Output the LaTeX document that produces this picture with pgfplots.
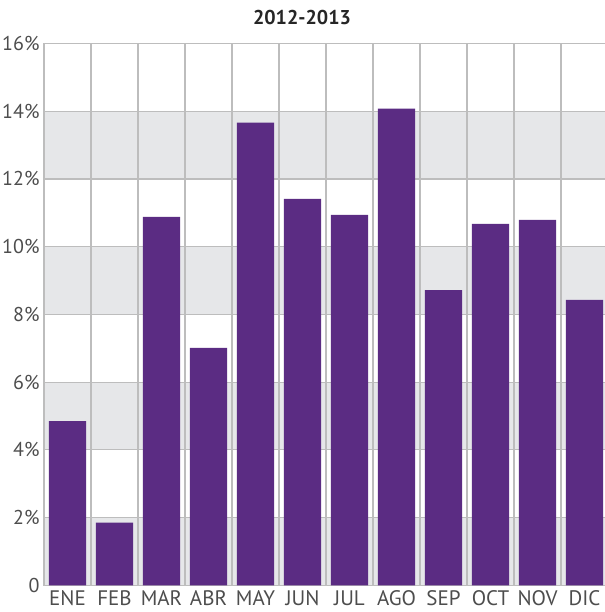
\documentclass[border=0pt]{standalone}
\usepackage{pgfplots}
\pgfplotsset{compat=1.18}
\usepackage{fontspec}
\setmainfont{PT Sans}
\definecolor{barc}{HTML}{5B2C83}
\definecolor{band}{HTML}{E6E7E9}
\definecolor{gridc}{HTML}{BDBDBD}
\definecolor{labc}{HTML}{4D4D4D}

\begin{document}
\begin{tikzpicture}
    \begin{axis}[
        name=ax, set layers,
        scale only axis, width=564pt, height=541.8pt,
        xmin=-0.5, xmax=11.5, ymin=0, ymax=16,
        ybar, bar width=0.79,
        xtick={0,...,11},
        xticklabels={ENE,FEB,MAR,ABR,MAY,JUN,JUL,AGO,SEP,OCT,NOV,DIC},
        minor xtick={0.5,1.5,...,10.5},
        ytick={0,2,...,16},
        yticklabels={0,2\%,4\%,6\%,8\%,10\%,12\%,14\%,16\%},
        xminorgrids, ymajorgrids,
        grid style={gridc, line width=1.2pt},
        minor grid style={gridc, line width=1.2pt},
        major tick length=0pt, minor tick length=0pt,
        axis line style={gridc, line width=1.2pt},
        tick label style={font=\fontsize{20}{24}\selectfont, text=labc},
        xticklabel style={yshift=-2pt, font=\fontsize{21}{24}\selectfont},
        yticklabel style={xshift=-1pt},
    ]
        % grey bands behind the grid
        \begin{pgfonlayer}{axis background}
            \fill[band] (axis cs:-0.5,0) rectangle (axis cs:11.5,2);
            \fill[band] (axis cs:-0.5,4) rectangle (axis cs:11.5,6);
            \fill[band] (axis cs:-0.5,8) rectangle (axis cs:11.5,10);
            \fill[band] (axis cs:-0.5,12) rectangle (axis cs:11.5,14);
        \end{pgfonlayer}
        \addplot[fill=barc, draw=none] coordinates {
            (0,4.85) (1,1.85) (2,10.88) (3,7.01) (4,13.66) (5,11.41)
            (6,10.94) (7,14.08) (8,8.72) (9,10.67) (10,10.79) (11,8.43)};
    \end{axis}
    \node[font=\fontsize{20}{24}\selectfont\bfseries, text=black!85]
        at ([xshift=258pt,yshift=25.5pt]ax.north west) {2012-2013};
    % the reference cuts the plot off a little short of its right edge
    \pgfresetboundingbox
    \path[use as bounding box] ([xshift=-44pt,yshift=-26.7pt]ax.south west)
        rectangle ([xshift=-4pt,yshift=43.5pt]ax.north east);
\end{tikzpicture}
\end{document}
